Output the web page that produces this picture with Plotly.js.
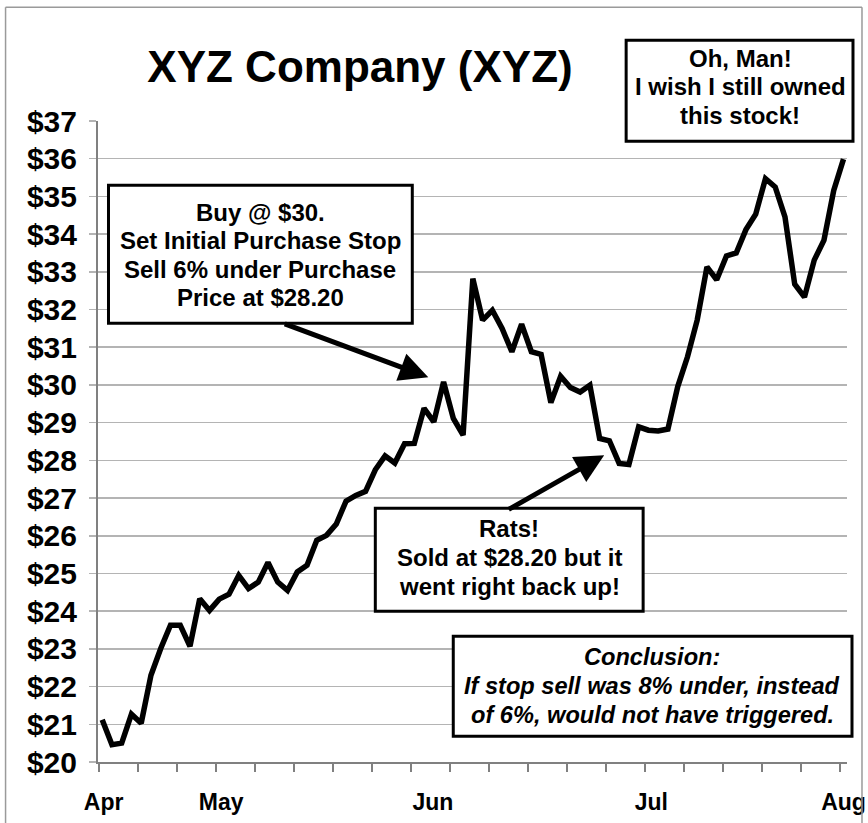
<!DOCTYPE html>
<html>
<head>
<meta charset="utf-8">
<script src="https://cdn.plot.ly/plotly-3.0.1.min.js"></script>
<style>html,body{margin:0;padding:0;background:#fff;}#chart{width:868px;height:823px;}</style>
</head>
<body>
<div id="chart"></div>
<script>
// ---- data ----
const prices = [21.12, 20.46, 20.50, 21.27, 21.03, 22.30, 23.01, 23.63, 23.63, 23.07,
  24.33, 24.02, 24.32, 24.45, 24.95, 24.60, 24.77, 25.29, 24.77, 24.55,
  25.04, 25.22, 25.88, 26.01, 26.31, 26.92, 27.07, 27.18, 27.75, 28.12,
  27.93, 28.44, 28.45, 29.38, 29.02, 30.08, 29.11, 28.67, 32.82, 31.72,
  31.98, 31.50, 30.88, 31.61, 30.88, 30.81, 29.53, 30.23, 29.93, 29.81,
  29.99, 28.58, 28.52, 27.92, 27.89, 28.89, 28.80, 28.78, 28.83, 29.95,
  30.74, 31.72, 33.13, 32.79, 33.42, 33.50, 34.12, 34.53, 35.47, 35.25,
  34.46, 32.67, 32.33, 33.31, 33.84, 35.16, 35.99];
const monthLabels = ['Apr', 'May', 'Jun', 'Jul', 'Aug'];
const monthPos = [0.15, 12.2, 33.9, 56.3, 76.0];
const priceTicks = [20, 21, 22, 23, 24, 25, 26, 27, 28, 29, 30, 31, 32, 33, 34, 35, 36, 37];
const priceTickText = priceTicks.map(v => '$' + v);
const chartTitle = 'XYZ Company (XYZ)';
const noteTopRight = ['Oh, Man!', 'I wish I still owned', 'this stock!'];
const noteBuy = ['Buy @ $30.', 'Set Initial Purchase Stop', 'Sell 6% under Purchase', 'Price at $28.20'];
const noteRats = ['Rats!', 'Sold at $28.20 but it', 'went right back up!'];
const noteConclusion = ['Conclusion:', 'If stop sell was 8% under, instead', 'of 6%, would not have triggered.'];

// ---- layout helpers ----
const L = 97.5, R = 21, T = 120.8, B = 61.3, W = 868, H = 823;
const PW = W - L - R, PH = H - T - B;
const X = px => (px - L) / PW;
const Y = py => (H - B - py) / PH;
const FONT = 'Liberation Sans, Arial, Helvetica, sans-serif';

const day = prices.map((_, i) => i);
const minorTicks = [];
for (let k = 0; k < 20; k++) minorTicks.push(-0.35 + 4 * k);

const shapes = [];
const annotations = [];
function box(x0, y0, x1, y1) {
  shapes.push({type: 'rect', xref: 'paper', yref: 'paper', x0: X(x0), x1: X(x1), y0: Y(y1), y1: Y(y0),
    line: {color: '#000', width: 3}, fillcolor: '#fff', layer: 'above'});
}
function lines(arr, cx, cy0, dy, size, italic) {
  arr.forEach((t, i) => {
    annotations.push({xref: 'paper', yref: 'paper', x: X(cx), y: Y(cy0 + i * dy), text: t,
      showarrow: false, xanchor: 'center', yanchor: 'middle',
      font: {family: FONT, size: size, color: '#000', weight: 'bold', style: italic ? 'italic' : 'normal'}});
  });
}
function arrow(tipX, tipY, tailX, tailY) {
  annotations.push({xref: 'paper', yref: 'paper', x: X(tipX), y: Y(tipY), ax: tailX - tipX, ay: tailY - tipY,
    text: '', showarrow: true, arrowhead: 2, arrowsize: 1.15, arrowwidth: 5, arrowcolor: '#000', standoff: 0, startstandoff: 0});
}

// outer frame
shapes.push({type: 'line', xref: 'paper', yref: 'paper', x0: X(5), x1: X(5), y0: Y(7), y1: Y(823), line: {color: '#9a9a9a', width: 1.5}});
shapes.push({type: 'line', xref: 'paper', yref: 'paper', x0: X(5), x1: X(862), y0: Y(7), y1: Y(7), line: {color: '#9a9a9a', width: 1.5}});
shapes.push({type: 'line', xref: 'paper', yref: 'paper', x0: X(862), x1: X(862), y0: Y(7), y1: Y(823), line: {color: '#9a9a9a', width: 1.5}});

box(626, 40, 853, 141);
lines(noteTopRight, 740, 58, 28.5, 24, false);
box(108, 185, 412, 323);
lines(noteBuy, 260, 212, 28.5, 24, false);
box(375, 508, 643, 611);
lines(noteRats, 509, 528, 29, 24, false);
box(453, 636, 852, 736);
lines(noteConclusion, 652, 657, 29, 23.6, true);

arrow(428, 377, 283, 323);
arrow(604, 455, 507, 510);

const traces = [{
  x: day, y: prices, type: 'scatter', mode: 'lines',
  line: {color: '#000', width: 5.5}, hoverinfo: 'skip', showlegend: false
}];

const layout = {
  width: W, height: H, autosize: false,
  margin: {l: L, r: R, t: T, b: B, pad: 0},
  paper_bgcolor: '#fff', plot_bgcolor: '#fff',
  showlegend: false,
  title: {text: chartTitle, xref: 'container', yref: 'container', x: 360 / W, xanchor: 'center',
    y: 1 - 67 / H, yanchor: 'middle', font: {family: FONT, size: 44, color: '#000', weight: 'bold'}},
  xaxis: {
    range: [-0.43, 76.36], tickmode: 'array', tickvals: monthPos, ticktext: monthLabels,
    ticks: '', showgrid: false, zeroline: false, showline: true, linecolor: '#808080', linewidth: 2,
    tickfont: {family: FONT, size: 23, color: '#000', weight: 'bold'}, ticklabelstandoff: 18,
    ticklabeloverflow: 'allow',
    minor: {tickmode: 'array', tickvals: minorTicks, ticks: 'outside', ticklen: 8, tickwidth: 1.5, tickcolor: '#808080', showgrid: false},
    fixedrange: true
  },
  yaxis: {
    range: [20, 37], tickmode: 'array', tickvals: priceTicks, ticktext: priceTickText,
    showgrid: true, gridcolor: '#b4b4b4', gridwidth: 1.5, zeroline: false,
    showline: true, linecolor: '#808080', linewidth: 2,
    ticks: 'outside', ticklen: 7, tickwidth: 1.5, tickcolor: '#b4b4b4',
    tickfont: {family: FONT, size: 30, color: '#000', weight: 'bold'}, ticklabelstandoff: 6,
    fixedrange: true
  },
  shapes: shapes,
  annotations: annotations
};

Plotly.newPlot('chart', traces, layout, {staticPlot: true, displayModeBar: false});
</script>
</body>
</html>
